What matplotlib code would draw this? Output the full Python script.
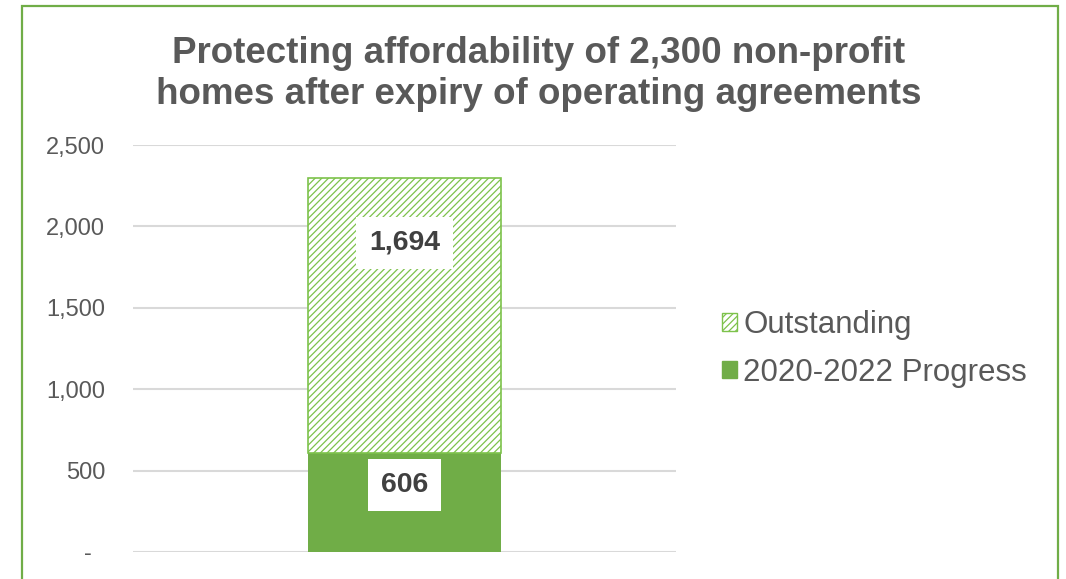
import matplotlib
matplotlib.use("Agg")
import matplotlib.pyplot as plt
from matplotlib.patches import Rectangle, Patch
from matplotlib.ticker import FuncFormatter

# Data
categories = ["Non-profit homes"]
progress = [606]
outstanding = [1694]
series_names = ["2020-2022 Progress", "Outstanding"]
yticks = [0, 500, 1000, 1500, 2000, 2500]

GREEN = "#70AD47"
HATCH_GREEN = "#7DC24B"
TEXT = "#595959"
LABEL = "#404040"

plt.rcParams["font.family"] = ["Liberation Sans", "DejaVu Sans"]
plt.rcParams["hatch.linewidth"] = 0.9
plt.rcParams["hatch.color"] = HATCH_GREEN

fig = plt.figure(figsize=(10.66, 5.79), dpi=100)
ax = fig.add_axes([133 / 1066, 27 / 579, 543 / 1066, 407 / 579])

x = [0.5]
bw = 0.354
b1 = ax.bar(x, progress, width=bw, color=GREEN, edgecolor=GREEN, linewidth=0, zorder=3,
            label=series_names[0])
b2 = ax.bar(x, outstanding, bottom=progress, width=bw, color="white", edgecolor=HATCH_GREEN,
            linewidth=1.2, hatch="/////", zorder=3, label=series_names[1])

ax.set_xlim(0, 1)
ax.set_ylim(0, 2500)
ax.set_yticks(yticks)
ax.yaxis.set_major_formatter(FuncFormatter(lambda v, p: "-  " if v == 0 else f"{int(v):,}"))
ax.tick_params(axis="y", length=0, pad=20, labelsize=17, labelcolor=TEXT)
ax.set_xticks([])
ax.grid(axis="y", color="#D9D9D9", linewidth=1.5, zorder=0)
for s in ax.spines.values():
    s.set_visible(False)

# Value labels in white boxes
box = dict(boxstyle="square,pad=0.45", facecolor="white", edgecolor="none")
label_pos = [(x[0], progress[0] * 0.68, progress[0]),
             (x[0], progress[0] + outstanding[0] * 0.763, outstanding[0])]
for xx, yy, v in label_pos:
    ax.text(xx, yy, f"{v:,}", ha="center", va="center", fontsize=20.5, fontweight="bold",
            color=LABEL, bbox=box, zorder=5)

# Legend
handles = [Patch(facecolor="white", edgecolor=HATCH_GREEN, hatch="/////", linewidth=1.0,
                 label=series_names[1]),
           Patch(facecolor=GREEN, edgecolor=GREEN, label=series_names[0])]
fig.legend(handles=handles, loc="center left", bbox_to_anchor=(709 / 1066, 1 - 349 / 579),
           frameon=False, fontsize=22.5, labelcolor=TEXT, handlelength=0.5, handleheight=0.5,
           handletextpad=0.2, labelspacing=0.55, borderaxespad=0)

# Title
fig.text(539 / 1066, 1 - 74 / 579,
         "Protecting affordability of 2,300 non-profit\nhomes after expiry of operating agreements",
         ha="center", va="center", fontsize=26.5, fontweight="bold", color=TEXT, linespacing=1.25)

# Chart frame
fig.patches.append(Rectangle((22 / 1066, -0.05), (1058 - 22) / 1066, 1.05 - 6 / 579,
                             transform=fig.transFigure, fill=False, edgecolor=GREEN,
                             linewidth=1.6, zorder=10))

fig.savefig("out.png", dpi=100)
